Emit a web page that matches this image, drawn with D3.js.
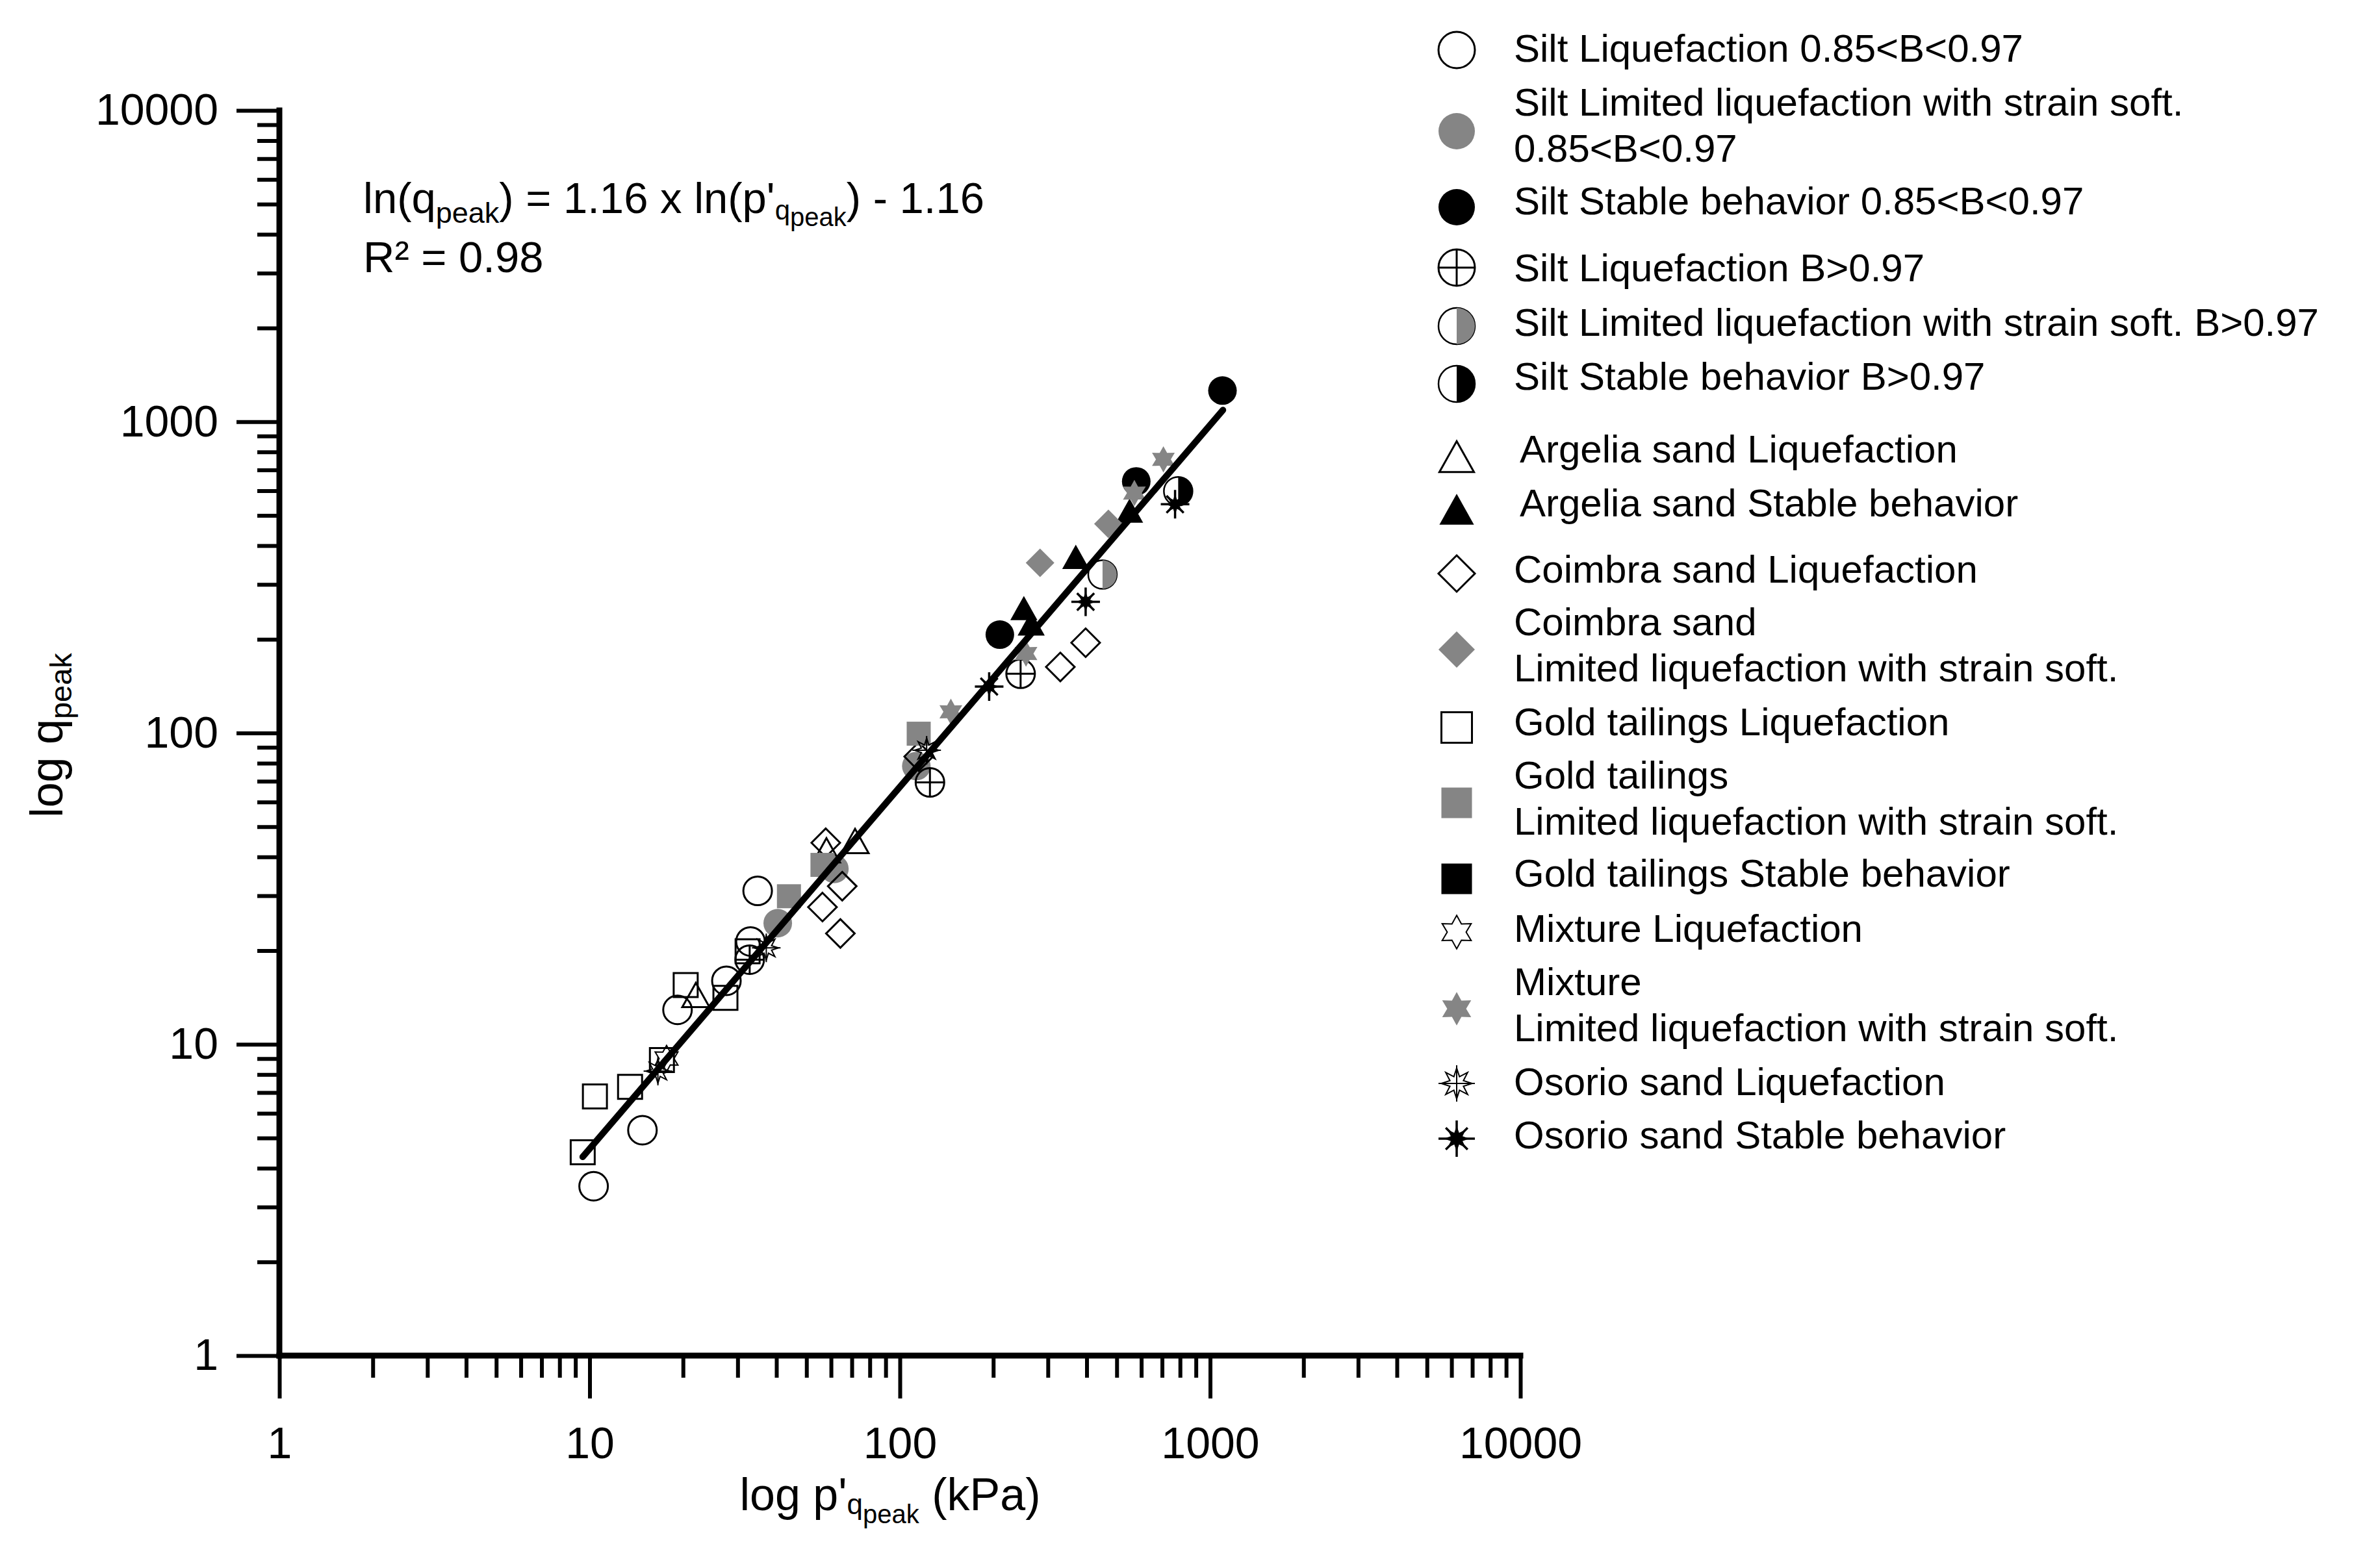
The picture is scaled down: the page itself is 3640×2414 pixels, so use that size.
<!DOCTYPE html>
<html><head><meta charset="utf-8">
<script src="https://cdn.jsdelivr.net/npm/d3@7"></script>
<style>
body{margin:0;background:#fff}
svg{display:block;background:#fff}
text{font-family:"Liberation Sans",Arial,Helvetica,sans-serif;fill:#000}
</style>
</head><body>
<svg id="chart" width="3640" height="2414"></svg>
<script>
// ---------------- data (x = p'qpeak kPa, y = qpeak) ----------------
const siltLiq085      = [[10.3,3.5],[14.8,5.3],[19.2,12.9],[27.6,16.0],[33.0,21.4],[34.8,31.1]];
const siltLimited085  = [[40.4,24.5],[61.5,36.6],[113,78.3]];
const siltStable085   = [[210,207],[578,643],[1096,1259]];
const siltLiq097      = [[32.8,18.7],[125,69.4],[245,155]];
const siltLimited097  = [[450,323]];
const siltStable097   = [[789,598]];
const argeliaLiq      = [[22.0,14.4],[58,42],[71.7,45.0]];
const argeliaStable   = [[251,252],[265,225],[369,368],[550,518]];
const coimbraLiq      = [[56.3,27.6],[65.2,32.2],[64.3,22.7],[57.7,44.4],[115,84],[329,163],[397,195]];
const coimbraLimited  = [[283,352],[470,470]];
const goldLiq         = [[9.5,4.5],[10.4,6.8],[13.5,7.3],[17.1,8.9],[20.4,15.5],[27.4,14.1],[32.3,19.9]];
const goldLimited     = [[43.9,29.9],[56.3,37.7],[115,99.5]];
const goldStable      = [];
const mixtureLiq      = [[17.7,9.0]];
const mixtureLimited  = [[146,117],[255,180],[570,590],[707,757]];
const osorioLiq       = [[16.6,8.2],[37.1,20.4],[122,88]];
const osorioStable    = [[194,141],[397,264],[771,543]];
const fitLine         = [[9.5,4.35],[1100,1090]];

const seriesData = [siltLiq085,siltLimited085,siltStable085,siltLiq097,siltLimited097,siltStable097,
  argeliaLiq,argeliaStable,coimbraLiq,coimbraLimited,goldLiq,goldLimited,goldStable,
  mixtureLiq,mixtureLimited,osorioLiq,osorioStable];
const seriesLabels = [
  ["Silt Liquefaction 0.85<B<0.97"],
  ["Silt Limited liquefaction with strain soft.","0.85<B<0.97"],
  ["Silt Stable behavior 0.85<B<0.97"],
  ["Silt Liquefaction B>0.97"],
  ["Silt Limited liquefaction with strain soft. B>0.97"],
  ["Silt Stable behavior B>0.97"],
  ["Argelia sand Liquefaction"],
  ["Argelia sand Stable behavior"],
  ["Coimbra sand Liquefaction"],
  ["Coimbra sand","Limited liquefaction with strain soft."],
  ["Gold tailings Liquefaction"],
  ["Gold tailings","Limited liquefaction with strain soft."],
  ["Gold tailings Stable behavior"],
  ["Mixture Liquefaction"],
  ["Mixture","Limited liquefaction with strain soft."],
  ["Osorio sand Liquefaction"],
  ["Osorio sand Stable behavior"]
];
const seriesSymbols = ["circleOpen","circleGray","circleBlack","circlePlus","halfGray","halfBlack",
  "triOpen","triBlack","diaOpen","diaGray","sqOpen","sqGray","sqBlack","hexOpen","hexGray","osoOpen","osoBlack"];
const xTickLabels = ["1","10","100","1000","10000"];
const yTickLabels = ["1","10","100","1000","10000"];
const r2Text = "R\u00B2 = 0.98";

// ---------------- layout ----------------
const W = 3640, H = 2414;
const legendMarkerY = [77,202,319,412,502,591,703,784,883,1000,1120,1236,1353,1435,1553,1668,1753];
const legendTextY   = [95,178,330,433,517,600,712,795,897,978,1132,1214,1365,1450,1532,1686,1768];
const legendLineGap = 71;
const GRAY = "#858585";

const svg = d3.select("#chart");
svg.append("rect").attr("width",W).attr("height",H).attr("fill","#fff");

const x = d3.scaleLog().domain([1,10000]).range([430,2340]);
const y = d3.scaleLog().domain([1,10000]).range([2087,170]);

const majors = [1,10,100,1000,10000];
const minors = x.ticks().filter(v => !majors.includes(v));

// ---------------- axes ----------------
function styleAxis(g, sw){
  g.selectAll(".tick line").attr("stroke","#000").attr("stroke-width",sw);
  g.select(".domain").remove();
}
const gxMinor = svg.append("g").attr("transform",`translate(0,${y(1)})`)
  .call(d3.axisBottom(x).tickValues(minors).tickSize(34).tickFormat(""));
styleAxis(gxMinor,6);
const gxMajor = svg.append("g").attr("transform",`translate(0,${y(1)})`)
  .call(d3.axisBottom(x).tickValues(majors).tickSize(66).tickPadding(44).tickFormat((d,i)=>xTickLabels[i]));
styleAxis(gxMajor,6);
gxMajor.selectAll("text").attr("font-size",68).attr("fill","#000")
  .attr("font-family","'Liberation Sans',Arial,sans-serif");

const gyMinor = svg.append("g").attr("transform",`translate(${x(1)},0)`)
  .call(d3.axisLeft(y).tickValues(minors).tickSize(34).tickFormat(""));
styleAxis(gyMinor,6);
const gyMajor = svg.append("g").attr("transform",`translate(${x(1)},0)`)
  .call(d3.axisLeft(y).tickValues(majors).tickSize(66).tickPadding(28).tickFormat((d,i)=>yTickLabels[i]));
styleAxis(gyMajor,6);
gyMajor.selectAll("text").attr("font-size",68).attr("fill","#000")
  .attr("font-family","'Liberation Sans',Arial,sans-serif");

// axis lines
svg.append("line").attr("x1",x(1)).attr("x2",x(10000)).attr("y1",y(1)).attr("y2",y(1))
  .attr("stroke","#000").attr("stroke-width",9).attr("stroke-linecap","square");
svg.append("line").attr("x1",x(1)).attr("x2",x(1)).attr("y1",y(1)).attr("y2",y(10000))
  .attr("stroke","#000").attr("stroke-width",9).attr("stroke-linecap","square");

// axis titles
const xt = svg.append("text").attr("x",1370).attr("y",2325).attr("text-anchor","middle").attr("font-size",70);
xt.append("tspan").text("log p'");
xt.append("tspan").attr("font-size",44).attr("dy",6).text("q");
xt.append("tspan").attr("font-size",40).attr("dy",14).text("peak");
xt.append("tspan").attr("dy",-20).text(" (kPa)");

const yt = svg.append("text").attr("transform","translate(96,1132) rotate(-90)").attr("text-anchor","middle").attr("font-size",70);
yt.append("tspan").text("log q");
yt.append("tspan").attr("font-size",47).attr("dy",14).text("peak");

// equation
const eq = svg.append("text").attr("x",559).attr("y",328).attr("font-size",67);
eq.append("tspan").text("ln(q");
eq.append("tspan").attr("font-size",45).attr("dy",15).text("peak");
eq.append("tspan").attr("dy",-15).text(") = 1.16 x ln(p'");
eq.append("tspan").attr("font-size",42).attr("dy",10).text("q");
eq.append("tspan").attr("font-size",40).attr("dy",10).text("peak");
eq.append("tspan").attr("dy",-20).text(") - 1.16");
svg.append("text").attr("x",559).attr("y",419).attr("font-size",67).text(r2Text);

// ---------------- markers ----------------
function starPath(n, ro, ri){
  const p=[];
  for(let i=0;i<2*n;i++){
    const a=-Math.PI/2 + i*Math.PI/n, rr = i%2?ri:ro;
    p.push([(rr*Math.cos(a)).toFixed(2),(rr*Math.sin(a)).toFixed(2)]);
  }
  return "M"+p.map(q=>q.join(",")).join("L")+"Z";
}
function drawMarker(g, type, r){
  const sw = 3;
  const s = 0.84*r;
  const tw = 0.95*r, th = 0.85*r;
  switch(type){
    case "circleOpen":
      g.append("circle").attr("r",r).attr("fill","none").attr("stroke","#000").attr("stroke-width",sw); break;
    case "circleGray":
      g.append("circle").attr("r",r).attr("fill",GRAY); break;
    case "circleBlack":
      g.append("circle").attr("r",r).attr("fill","#000"); break;
    case "circlePlus":
      g.append("circle").attr("r",r).attr("fill","none").attr("stroke","#000").attr("stroke-width",sw);
      g.append("path").attr("d",`M${-r},0H${r}M0,${-r}V${r}`).attr("stroke","#000").attr("stroke-width",sw); break;
    case "halfGray":
    case "halfBlack":
      g.append("circle").attr("r",r).attr("fill","#fff").attr("stroke","#000").attr("stroke-width",2.5);
      g.append("path").attr("d",`M0,${-r}A${r},${r} 0 0 1 0,${r}Z`).attr("fill",type==="halfGray"?GRAY:"#000"); break;
    case "triOpen":
    case "triBlack":
      g.append("path").attr("d",`M0,${-th}L${tw},${th}L${-tw},${th}Z`)
        .attr("fill",type==="triBlack"?"#000":"none").attr("stroke",type==="triBlack"?"none":"#000").attr("stroke-width",sw); break;
    case "diaOpen":
    case "diaGray":
      g.append("path").attr("d",`M0,${-r}L${r},0L0,${r}L${-r},0Z`)
        .attr("fill",type==="diaGray"?GRAY:"none").attr("stroke",type==="diaGray"?"none":"#000").attr("stroke-width",sw); break;
    case "sqOpen":
    case "sqGray":
    case "sqBlack":
      g.append("rect").attr("x",-s).attr("y",-s).attr("width",2*s).attr("height",2*s)
        .attr("fill",type==="sqOpen"?"none":(type==="sqGray"?GRAY:"#000"))
        .attr("stroke",type==="sqOpen"?"#000":"none").attr("stroke-width",sw); break;
    case "hexOpen":
    case "hexGray":
      g.append("path").attr("d",starPath(6,0.92*r,0.52*r))
        .attr("fill",type==="hexGray"?GRAY:"none").attr("stroke",type==="hexGray"?"none":"#000").attr("stroke-width",2); break;
    case "osoOpen":
      g.append("path").attr("d",starPath(8,0.85*r,0.4*r)).attr("fill","none").attr("stroke","#000").attr("stroke-width",2);
      g.append("path").attr("d",`M0,${-r}V${r}M${-r},0H${r}`).attr("stroke","#000").attr("stroke-width",2); break;
    case "osoBlack":
      g.append("path").attr("d",starPath(8,0.7*r,0.35*r)).attr("fill","#000");
      g.append("path").attr("d",`M0,${-r}V${r}M${-r},0H${r}M${-0.6*r},${-0.6*r}L${0.6*r},${0.6*r}M${0.6*r},${-0.6*r}L${-0.6*r},${0.6*r}`)
        .attr("stroke","#000").attr("stroke-width",3.5); break;
  }
}

const plot = svg.append("g");
seriesData.forEach((pts,i)=>{
  plot.selectAll(null).data(pts).enter().append("g")
    .attr("transform",d=>`translate(${x(d[0])},${y(d[1])})`)
    .each(function(){ drawMarker(d3.select(this), seriesSymbols[i], 22); });
});

// fit line
svg.append("path").datum(fitLine)
  .attr("d",d3.line().x(d=>x(d[0])).y(d=>y(d[1])))
  .attr("stroke","#000").attr("stroke-width",10).attr("stroke-linecap","round").attr("fill","none");

// ---------------- legend ----------------
const leg = svg.append("g");
seriesLabels.forEach((lines,i)=>{
  const mg = leg.append("g").attr("transform",`translate(2242,${legendMarkerY[i]})`);
  drawMarker(mg, seriesSymbols[i], 28);
  const tx = (i===6||i===7)?2339:2330;
  lines.forEach((ln,j)=>{
    leg.append("text").attr("x",tx).attr("y",legendTextY[i]+j*legendLineGap)
      .attr("font-size",60).text(ln);
  });
});
</script>
</body></html>
